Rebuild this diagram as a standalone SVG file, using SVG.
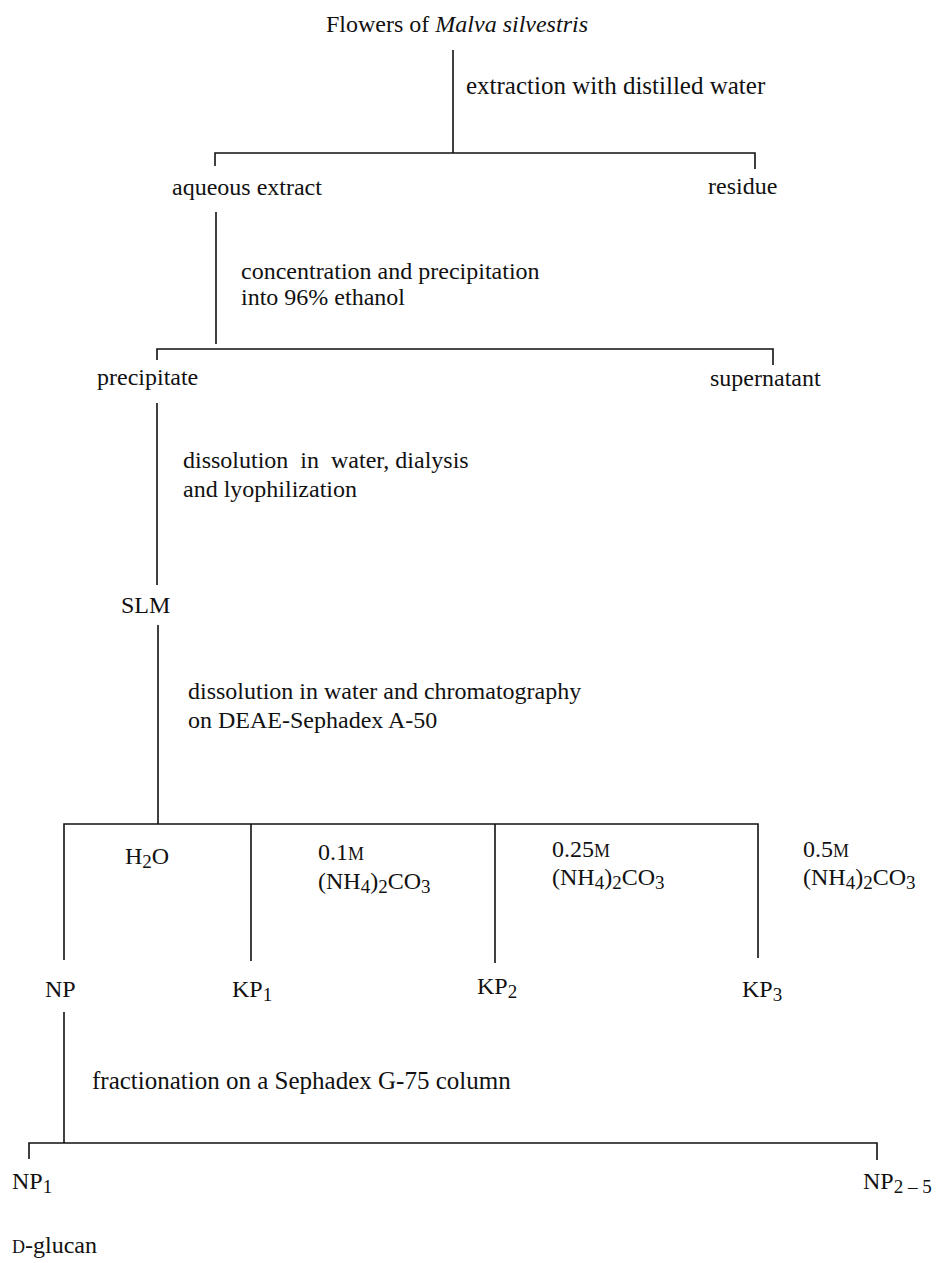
<svg xmlns="http://www.w3.org/2000/svg" width="939" height="1263" viewBox="0 0 939 1263">
<style>
text{font-family:"Liberation Serif","Times New Roman",serif;font-size:24px;fill:#111}
.c line,.c path{stroke:#111;stroke-width:1.6;fill:none}
.sub{font-size:19px}
.sc{font-size:18px}
.big{font-size:25px}
</style>
<rect width="939" height="1263" fill="#fff"/>
<g class="c" id="connectors">
<line x1="453" y1="50" x2="453" y2="153"/>
<path d="M215,166 V153 H755 V169"/>
<line x1="216" y1="212" x2="216" y2="344"/>
<path d="M157,360 V349 H773 V365"/>
<line x1="157" y1="403" x2="157" y2="585"/>
<line x1="158" y1="625" x2="158" y2="824"/>
<path d="M64,960 V824 H758 V958"/>
<line x1="251" y1="824" x2="251" y2="961"/>
<line x1="495" y1="824" x2="495" y2="963"/>
<line x1="64" y1="1012" x2="64" y2="1143"/>
<path d="M29,1159 V1143 H877 V1160"/>
</g>
<g id="flowers"><text x="326" y="32">Flowers of <tspan font-style="italic">Malva silvestris</tspan></text></g>
<g id="step1"><text class="big" x="466" y="94">extraction with distilled water</text></g>
<g id="aqueous"><text x="172" y="195">aqueous extract</text></g>
<g id="residue"><text x="708" y="194">residue</text></g>
<g id="step2"><text x="241" y="279">concentration and precipitation</text><text x="241" y="305">into 96% ethanol</text></g>
<g id="precipitate"><text x="97" y="385">precipitate</text></g>
<g id="supernatant"><text x="710" y="386">supernatant</text></g>
<g id="step3"><text x="183" y="468" xml:space="preserve">dissolution  in  water, dialysis</text><text x="183" y="497">and lyophilization</text></g>
<g id="slm"><text x="121" y="613">SLM</text></g>
<g id="step4"><text x="188" y="699">dissolution in water and chromatography</text><text x="188" y="728">on DEAE-Sephadex A-50</text></g>
<g id="h2o"><text x="125" y="864">H<tspan class="sub" dy="4">2</tspan><tspan dy="-4">O</tspan></text></g>
<g id="e01"><text x="318" y="860">0.1<tspan class="sc">M</tspan></text><text x="318" y="889">(NH<tspan class="sub" dy="4">4</tspan><tspan dy="-4">)</tspan><tspan class="sub" dy="4">2</tspan><tspan dy="-4">CO</tspan><tspan class="sub" dy="4">3</tspan></text></g>
<g id="e025"><text x="552" y="857">0.25<tspan class="sc">M</tspan></text><text x="552" y="885">(NH<tspan class="sub" dy="4">4</tspan><tspan dy="-4">)</tspan><tspan class="sub" dy="4">2</tspan><tspan dy="-4">CO</tspan><tspan class="sub" dy="4">3</tspan></text></g>
<g id="e05"><text x="803" y="857">0.5<tspan class="sc">M</tspan></text><text x="803" y="885">(NH<tspan class="sub" dy="4">4</tspan><tspan dy="-4">)</tspan><tspan class="sub" dy="4">2</tspan><tspan dy="-4">CO</tspan><tspan class="sub" dy="4">3</tspan></text></g>
<g id="np"><text x="45" y="997">NP</text></g>
<g id="kp1"><text x="232" y="997">KP<tspan class="sub" dy="4">1</tspan></text></g>
<g id="kp2"><text x="477" y="994">KP<tspan class="sub" dy="4">2</tspan></text></g>
<g id="kp3"><text x="742" y="997">KP<tspan class="sub" dy="4">3</tspan></text></g>
<g id="step5"><text class="big" x="92" y="1089">fractionation on a Sephadex G-75 column</text></g>
<g id="np1"><text x="12" y="1189">NP<tspan class="sub" dy="4">1</tspan></text></g>
<g id="np25"><text x="863" y="1189">NP<tspan class="sub" dy="4">2 – 5</tspan></text></g>
<g id="glucan"><text x="12" y="1253"><tspan class="sc">D</tspan>-glucan</text></g>
</svg>
